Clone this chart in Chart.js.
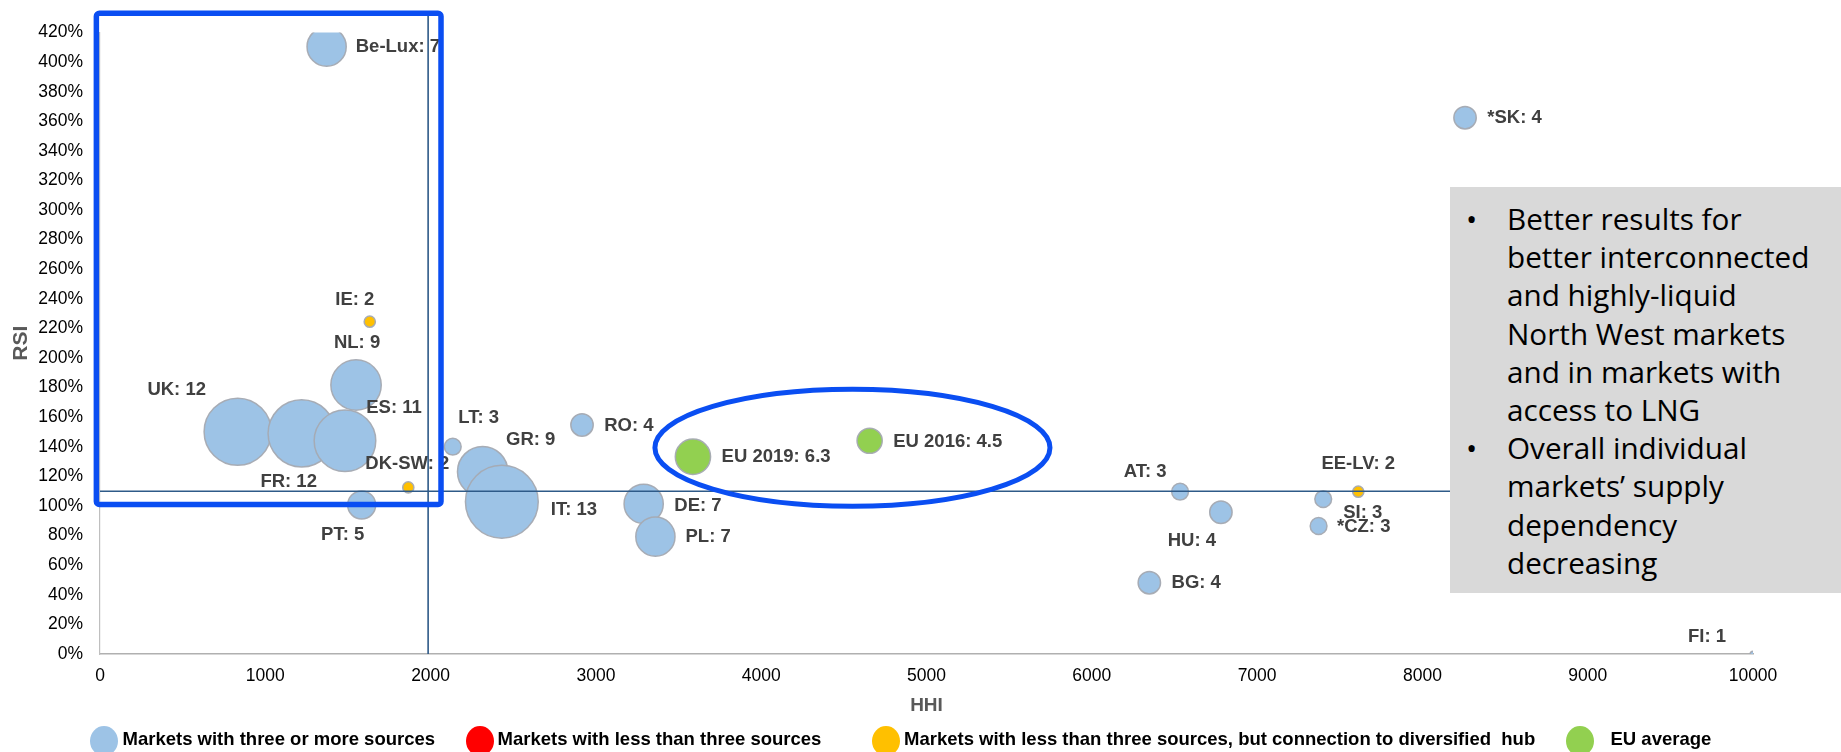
<!DOCTYPE html>
<html>
<head>
<meta charset="utf-8">
<title>Supply source diversification: HHI vs RSI</title>
<script src="https://cdn.jsdelivr.net/npm/chart.js@4.4.1/dist/chart.umd.min.js"></script>
<style>
  html, body { margin: 0; padding: 0; background: #ffffff; }
  #wrap { position: relative; width: 1841px; height: 752px; overflow: hidden; }
  #chart { position: absolute; left: 0; top: 0; }
  #note {
    position: absolute; left: 1450px; top: 187px; width: 391px; height: 406px;
    background: #d9d9d9; box-sizing: border-box; padding-top: 13px;
    font-family: "Open Sans", "Noto Sans", sans-serif; font-size: 29.7px; line-height: 38.2px;
    color: #000000; white-space: nowrap;
  }
  #note .item { position: relative; padding-left: 57px; }
  #note .dot { position: absolute; left: 16px; top: 0; }
</style>
</head>
<body>
<div id="wrap">
  <canvas id="chart" width="1841" height="752"></canvas>
  <div id="note">
    <div class="item"><span class="dot">•</span>Better results for<br>better interconnected<br>and highly-liquid<br>North West markets<br>and in markets with<br>access to LNG</div>
    <div class="item"><span class="dot">•</span>Overall individual<br>markets’ supply<br>dependency<br>decreasing</div>
  </div>
</div>
<script>
// Markets with three or more supply sources
const diverseNames   = ['Be-Lux', 'UK', 'FR', 'ES', 'NL', 'PT', 'LT', 'GR', 'IT', 'RO', 'DE', 'PL', 'AT', 'HU', 'BG', 'SI', '*CZ', '*SK', 'FI'];
const diverseHHI     = [1371, 833, 1220, 1482, 1549, 1583, 2134, 2315, 2431, 2916, 3289, 3360, 6534, 6781, 6348, 7400, 7372, 8258, 10000];
const diverseRSI     = [410.4, 150.2, 149.1, 144.1, 181.8, 100.7, 140.1, 123.2, 102.9, 154.8, 101.4, 79.3, 109.7, 95.8, 48.2, 104.7, 86.5, 362.4, 0];
const diverseSources = [7, 12, 12, 11, 9, 5, 3, 9, 13, 4, 7, 7, 3, 4, 4, 3, 3, 4, 1];

// Markets with less than three sources
const fewNames   = [];
const fewHHI     = [];
const fewRSI     = [];
const fewSources = [];

// Markets with less than three sources, but connected to a diversified hub
const hubNames   = ['IE', 'DK-SW', 'EE-LV'];
const hubHHI     = [1632, 1865, 7612];
const hubRSI     = [224.6, 112.6, 109.7];
const hubSources = [2, 2, 2];

// EU averages
const euNames   = ['EU 2019', 'EU 2016'];
const euHHI     = [3587, 4656];
const euRSI     = [133.3, 144.1];
const euSources = [6.3, 4.5];

// Reference thresholds
const hhiThreshold = 1985;
const rsiThreshold = 110;

// Axis ranges and ticks
const hhiMin = 0, hhiMax = 10000, hhiStep = 1000;
const rsiMin = 0, rsiMax = 420, rsiStep = 20;

const seriesLabels = [
  'Markets with three or more sources',
  'Markets with less than three sources',
  'Markets with less than three sources, but connection to diversified  hub',
  'EU average'
];
const seriesColors = ['#9dc3e6', '#ff0000', '#ffc000', '#92d050'];

// bubble width grows with the number of sources
const pxPerSource = 2.8;

// label placement: ['right', gap, dy] beside the bubble, or ['c', dx, dy] from its centre
const labelPlacement = {
  'UK': ['c', -61, -42], 'FR': ['c', -13, 49], 'ES': ['c', 49, -33], 'NL': ['c', 1, -42],
  'IE': ['c', -15, -22], 'DK-SW': ['c', -1, -23], 'PT': ['c', -19, 30], 'LT': ['c', 26, -29],
  'GR': ['c', 48, -32], 'AT': ['c', -35, -20], 'HU': ['c', -29, 29], 'EE-LV': ['c', 0, -28],
  'SI': ['c', 39.5, 14], 'FI': ['c', -46, -17],
  'Be-Lux': ['right', 9.5, 0], 'IT': ['right', 12.5, 8], 'RO': ['right', 11, 1], 'DE': ['right', 11, 2],
  'PL': ['right', 10.5, 0.5], 'EU 2019': ['right', 11, 0.5], 'EU 2016': ['right', 11, 1],
  'BG': ['right', 11, 0.5], '*CZ': ['right', 10, 0.5], '*SK': ['right', 11, 0]
};

// highlighted areas, in axis units
const boxArea = { hhiFrom: -22, hhiTo: 2063, rsiFrom: 101, rsiTo: 433 };
const ellipseArea = { hhi: 4552, rsi: 139.4, hhiHalf: 1195, rsiHalf: 39.5 };
const vLineTop = 432;

// legend layout
const legendCircleX = [104, 480, 886, 1580];
const legendTextX = [122.5, 497.5, 904, 1610.5];

function points(names, hhi, rsi, sources) {
  return names.map((name, i) => ({ x: hhi[i], y: rsi[i], r: sources[i] * pxPerSource, name: name, n: sources[i] }));
}

function bubbleSet(idx, pts) {
  return {
    label: seriesLabels[idx],
    data: pts,
    backgroundColor: seriesColors[idx],
    borderColor: 'rgba(165,170,178,0.95)',
    borderWidth: 1.5,
    clip: 0
  };
}

const fontFamily = '"Liberation Sans", Arial, sans-serif';
const labelFont = 'bold 18.5px ' + fontFamily;

const bubbleLabels = {
  id: 'bubbleLabels',
  afterDatasetsDraw(chart) {
    const ctx = chart.ctx;
    ctx.save();
    ctx.font = labelFont;
    ctx.fillStyle = '#404040';
    ctx.textBaseline = 'middle';
    chart.data.datasets.forEach((ds, di) => {
      const meta = chart.getDatasetMeta(di);
      meta.data.forEach((el, i) => {
        const p = ds.data[i];
        const place = labelPlacement[p.name] || ['right', 11, 0];
        const r = el.options.radius;
        let x;
        if (place[0] === 'right') { ctx.textAlign = 'left'; x = el.x + r + place[1]; }
        else { ctx.textAlign = 'center'; x = el.x + place[1]; }
        ctx.fillText(p.name + ': ' + p.n, x, el.y + place[2]);
      });
    });
    ctx.restore();
  }
};

const thresholdLines = {
  id: 'thresholdLines',
  afterDatasetsDraw(chart) {
    const { ctx, scales: { x, y } } = chart;
    ctx.save();
    ctx.strokeStyle = '#2e5a88';
    ctx.lineWidth = 1.6;
    ctx.beginPath();
    ctx.moveTo(x.getPixelForValue(hhiMin), y.getPixelForValue(rsiThreshold));
    ctx.lineTo(x.getPixelForValue(hhiMax), y.getPixelForValue(rsiThreshold));
    ctx.moveTo(x.getPixelForValue(hhiThreshold), y.getPixelForValue(rsiMin));
    ctx.lineTo(x.getPixelForValue(hhiThreshold), y.getPixelForValue(vLineTop));
    ctx.stroke();
    ctx.restore();
  }
};

const highlights = {
  id: 'highlights',
  afterDraw(chart) {
    const { ctx, scales: { x, y } } = chart;
    ctx.save();
    ctx.strokeStyle = '#0a4ef2';
    ctx.lineWidth = 5.5;
    const x0 = x.getPixelForValue(boxArea.hhiFrom), x1 = x.getPixelForValue(boxArea.hhiTo);
    const y0 = y.getPixelForValue(boxArea.rsiTo), y1 = y.getPixelForValue(boxArea.rsiFrom);
    ctx.beginPath();
    ctx.roundRect(x0, y0, x1 - x0, y1 - y0, 3);
    ctx.stroke();
    const cx = x.getPixelForValue(ellipseArea.hhi), cy = y.getPixelForValue(ellipseArea.rsi);
    const rx = x.getPixelForValue(ellipseArea.hhi + ellipseArea.hhiHalf) - cx;
    const ry = cy - y.getPixelForValue(ellipseArea.rsi + ellipseArea.rsiHalf);
    ctx.lineWidth = 5;
    ctx.beginPath();
    ctx.ellipse(cx, cy, rx, ry, 0, 0, Math.PI * 2);
    ctx.stroke();
    ctx.restore();
  }
};

const circleLegend = {
  id: 'circleLegend',
  afterDraw(chart) {
    const ctx = chart.ctx;
    const yMid = 740;
    ctx.save();
    ctx.font = 'bold 18.5px ' + fontFamily;
    ctx.textBaseline = 'middle';
    ctx.textAlign = 'left';
    chart.data.datasets.forEach((ds, i) => {
      ctx.fillStyle = ds.backgroundColor;
      ctx.beginPath();
      ctx.ellipse(legendCircleX[i], yMid + 1, 14, 15, 0, 0, Math.PI * 2);
      ctx.fill();
      ctx.fillStyle = '#000000';
      ctx.fillText(ds.label, legendTextX[i], yMid);
    });
    ctx.restore();
  }
};

new Chart(document.getElementById('chart'), {
  type: 'bubble',
  data: {
    datasets: [
      bubbleSet(0, points(diverseNames, diverseHHI, diverseRSI, diverseSources)),
      bubbleSet(1, points(fewNames, fewHHI, fewRSI, fewSources)),
      bubbleSet(2, points(hubNames, hubHHI, hubRSI, hubSources)),
      bubbleSet(3, points(euNames, euHHI, euRSI, euSources))
    ]
  },
  options: {
    responsive: false,
    animation: false,
    events: [],
    layout: { autoPadding: false, padding: { left: 0, right: 88, top: 32.5, bottom: 32 } },
    plugins: { legend: { display: false }, tooltip: { enabled: false } },
    scales: {
      x: {
        type: 'linear', min: hhiMin, max: hhiMax,
        grid: { display: false, drawTicks: false },
        border: { display: true, color: '#b0b0b0', width: 1.5 },
        ticks: { stepSize: hhiStep, padding: 11.5, color: '#000000', callback: v => String(v), font: { family: fontFamily, size: 17.5 } },
        title: { display: true, text: 'HHI', color: '#595959', padding: { top: 0, bottom: 2.5 }, font: { family: fontFamily, size: 19, weight: 'bold' } },
        afterFit(s) { s.height = 66; }
      },
      y: {
        type: 'linear', min: rsiMin, max: rsiMax,
        grid: { display: false, drawTicks: false },
        border: { display: true, color: '#bfbfbf', width: 1.2 },
        ticks: { stepSize: rsiStep, padding: 17, color: '#000000', callback: v => v + '%', font: { family: fontFamily, size: 17.5 } },
        title: { display: true, text: 'RSI', color: '#595959', padding: { top: 8.7, bottom: 0 }, font: { family: fontFamily, size: 21, weight: 'bold' } },
        afterFit(s) { s.width = 100; }
      }
    }
  },
  plugins: [bubbleLabels, thresholdLines, highlights, circleLegend]
});
</script>
</body>
</html>
